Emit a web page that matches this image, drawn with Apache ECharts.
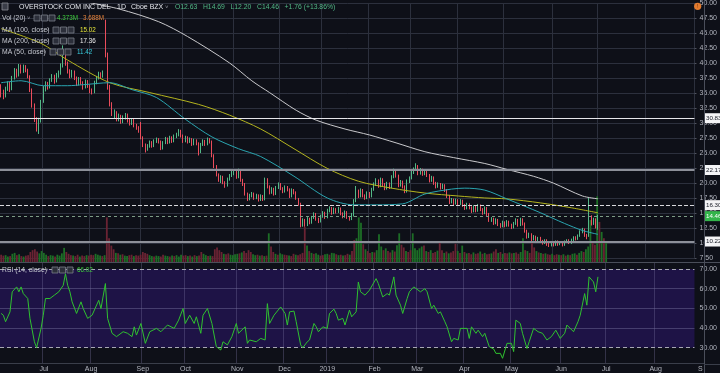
<!DOCTYPE html>
<html><head><meta charset="utf-8">
<script src="https://cdn.jsdelivr.net/npm/echarts@6/dist/echarts.min.js"></script>
<style>html,body{margin:0;padding:0;background:#0e1018;overflow:hidden}#c{width:720px;height:373px}</style>
</head><body><div id="c"></div>
<script>
// ---------- DATA ----------
const startDate = '2018-06-05';
const holidays = ['2018-07-04','2018-09-03','2018-11-22','2018-12-05','2018-12-25','2019-01-01','2019-01-21','2019-02-18','2019-04-19','2019-05-27','2019-07-04','2019-09-02'];
const monthNames = ['Jan','Feb','Mar','Apr','May','Jun','Jul','Aug','Sep','Oct','Nov','Dec'];
// [open, close, low, high]
const candles = [
[36.0,34.8,34.3,36.5],[34.8,34.5,34.0,35.6],[34.5,35.8,34.3,36.1],[35.8,36.6,35.4,37.0],[36.6,35.6,35.2,36.9],
[35.6,37.6,35.5,37.9],[37.6,38.8,37.3,39.2],[38.8,38.0,37.6,39.1],[38.0,39.5,37.8,39.9],[39.5,38.6,38.3,39.8],
[38.6,39.4,38.4,39.8],[39.4,38.9,38.5,39.7],[38.9,37.8,37.5,39.1],[37.8,35.5,35.2,38.0],[35.5,33.0,32.6,35.8],
[33.0,30.6,30.2,33.3],[30.6,29.8,28.6,31.0],[29.8,30.4,28.2,30.9],[30.4,33.6,30.1,33.9],
[33.6,35.8,33.4,36.2],[35.8,36.5,35.3,37.0],[36.5,36.0,35.6,36.9],[36.0,37.2,35.8,37.5],[37.2,37.8,36.9,38.2],
[37.8,37.0,36.6,38.1],[37.0,38.0,36.8,38.4],[38.0,38.4,37.6,38.8],[38.4,39.6,38.1,40.0],[39.6,41.5,39.3,43.0],
[41.5,40.0,39.6,41.8],[40.0,38.6,38.3,40.3],[38.6,37.9,37.5,39.0],[37.9,38.6,37.6,38.9],[38.6,37.5,37.2,38.8],
[37.5,36.6,36.2,37.8],[36.6,37.4,36.3,37.7],[37.4,36.8,36.4,37.7],[36.8,36.0,35.6,37.0],[36.0,37.0,35.8,37.3],
[37.0,36.2,35.9,37.2],
[36.2,35.4,35.0,36.5],[35.4,35.2,34.8,35.8],[35.2,36.8,35.0,37.1],[36.8,37.6,36.5,37.9],[37.6,38.2,37.3,38.6],
[38.2,37.8,37.4,38.5],[37.8,38.4,37.6,38.8],[47.0,41.6,41.0,47.3],[41.4,36.0,35.6,41.8],[36.0,33.2,32.8,36.4],
[33.2,31.6,31.2,33.5],[31.2,31.8,30.8,32.3],[31.8,30.6,30.3,32.0],[30.6,31.2,30.3,31.6],[31.2,30.2,29.9,31.4],
[30.2,30.9,30.0,31.3],[30.9,31.4,30.6,31.7],[31.4,30.4,30.1,31.6],[30.4,29.9,29.6,30.7],[29.9,30.5,29.7,30.8],
[30.5,29.6,29.3,30.7],[29.6,29.2,28.9,29.9],[29.2,28.7,28.4,29.5],
[29.8,27.6,27.3,30.2],[27.6,26.4,26.0,27.8],[26.4,25.6,25.1,26.6],[25.6,26.2,25.4,26.5],[26.2,26.8,25.9,27.1],
[26.8,26.2,25.9,27.0],[26.2,27.0,26.0,27.3],[27.0,27.3,26.7,27.6],[27.3,26.9,26.6,27.5],[26.9,25.8,25.5,27.1],
[25.8,26.8,25.6,27.0],[26.8,27.4,26.5,27.7],[27.4,26.8,26.5,27.6],[26.8,27.6,26.6,27.9],[27.6,27.0,26.7,27.8],
[27.0,27.8,26.8,28.1],[27.8,28.1,27.5,28.4],[28.0,28.7,27.8,29.0],[28.7,27.9,27.6,28.9],
[27.9,27.0,26.7,28.1],[27.0,27.6,26.8,27.9],[27.6,26.9,26.6,27.8],[26.9,27.3,26.7,27.6],[27.3,26.5,26.2,27.5],
[26.5,27.1,26.3,27.4],[27.1,26.6,26.3,27.3],[26.6,24.9,24.6,26.8],[25.2,26.4,25.0,26.7],[26.4,27.0,26.2,27.3],
[27.0,26.5,26.2,27.2],[26.5,27.3,26.3,27.6],[27.3,26.9,26.6,27.5],[26.9,24.6,24.3,27.1],[24.6,22.8,22.5,24.8],
[22.8,21.4,21.1,23.0],[21.4,20.6,20.2,21.6],[20.4,21.0,20.0,21.3],[21.0,20.1,19.8,21.2],[20.1,19.6,19.2,20.3],
[19.6,20.6,19.4,20.9],[20.6,21.2,20.4,21.5],[21.2,21.8,21.0,22.1],
[21.6,22.0,21.3,22.3],[22.0,21.0,20.7,22.2],[21.0,22.0,20.8,22.4],[22.0,20.5,20.2,22.1],[20.5,19.8,19.5,20.7],
[19.8,18.2,17.9,20.0],[18.2,17.3,17.0,18.4],[17.3,17.9,17.1,18.2],[17.9,18.2,17.6,18.5],[18.2,17.5,17.2,18.4],
[17.5,17.9,17.3,18.2],[17.9,17.2,16.9,18.1],[17.2,17.8,17.0,18.1],[17.8,17.3,17.0,18.0],[17.3,20.6,17.1,20.9],
[20.6,19.4,19.1,20.8],[19.4,18.4,18.1,19.6],[18.4,19.0,18.2,19.3],[19.0,18.2,17.9,19.2],[18.2,19.2,18.0,19.5],
[19.2,19.8,19.0,20.1],
[19.8,19.1,18.8,20.0],[19.1,18.6,18.3,19.3],[18.6,19.3,18.4,19.6],[19.3,18.9,18.6,19.5],[18.9,17.8,17.5,19.1],
[17.8,18.8,17.6,19.1],[18.8,18.4,18.1,19.0],[18.4,17.5,17.2,18.6],[17.3,16.5,16.2,17.5],[16.5,13.0,12.6,16.7],
[13.0,13.8,12.7,14.1],[13.8,13.0,12.7,14.0],[13.0,14.0,12.8,14.3],[14.0,13.4,13.1,14.2],[13.4,14.2,13.2,14.5],
[14.2,14.8,14.0,15.1],[14.8,14.0,13.7,15.0],[14.0,13.6,13.3,14.2],[13.6,14.4,13.4,14.7],
[14.4,15.0,14.2,15.3],[15.0,14.3,14.0,15.2],[14.3,15.4,14.1,15.7],[15.4,15.8,15.1,16.1],[15.8,15.0,14.7,16.0],
[15.0,15.6,14.8,15.9],[15.6,15.2,14.9,15.8],[15.2,15.7,15.0,16.0],[15.7,14.9,14.6,15.9],[14.9,14.4,14.1,15.1],
[14.4,15.1,14.2,15.4],[15.1,14.3,14.0,15.3],[14.3,14.0,13.7,14.5],[14.0,14.8,13.8,15.0],[14.6,17.0,14.4,17.3],
[17.0,18.6,16.8,19.5],[18.6,17.8,17.5,18.9],[17.8,18.8,17.6,19.1],[18.8,17.9,17.6,19.0],[17.9,17.5,17.2,18.1],
[17.5,18.3,17.3,18.6],
[18.3,17.8,17.5,18.5],[17.8,18.9,17.6,19.2],[18.9,19.8,18.7,20.1],[19.8,20.4,19.5,20.8],[20.4,19.5,19.2,20.6],
[19.5,20.6,19.3,20.9],[20.6,19.8,19.5,20.8],[19.8,19.1,18.8,20.0],[19.1,19.9,18.9,20.2],[19.9,19.3,19.0,20.1],
[19.3,21.0,19.1,21.3],[21.0,22.0,20.8,22.4],[22.0,21.2,20.9,22.2],[21.2,19.6,19.3,21.4],[19.6,20.2,19.4,20.5],
[20.2,19.4,19.1,20.4],[19.4,18.6,18.3,19.6],[18.6,20.3,18.4,20.6],[20.3,20.8,20.0,21.1],
[20.8,21.8,20.6,22.1],[21.8,22.2,21.5,22.6],[22.2,22.8,22.0,23.3],[22.8,21.6,21.3,23.0],[21.6,22.2,21.4,22.5],
[22.2,21.5,21.2,22.4],[21.5,22.0,21.3,22.3],[22.0,21.3,21.0,22.2],[21.3,20.4,20.1,21.5],[20.4,20.9,20.2,21.2],
[20.9,20.0,19.7,21.1],[20.0,19.4,19.1,20.2],[19.4,19.8,19.2,20.1],[19.8,19.2,18.9,20.0],[19.2,19.6,19.0,19.9],
[19.6,18.8,18.5,19.8],[18.8,17.8,17.5,19.0],[17.8,16.8,16.5,18.0],[16.8,17.2,16.6,17.5],[17.2,16.6,16.3,17.4],
[16.6,17.1,16.4,17.4],
[17.1,16.5,16.2,17.3],[16.5,17.0,16.3,17.3],[17.0,16.3,16.0,17.2],[16.3,15.8,15.5,16.5],[15.8,16.4,15.6,16.7],
[16.4,15.9,15.6,16.6],[15.9,15.3,15.0,16.1],[15.3,16.0,15.1,16.3],[16.0,15.4,15.1,16.2],[15.4,16.2,15.2,16.5],
[16.2,15.6,15.3,16.4],[15.6,15.0,14.7,15.8],[15.0,15.8,14.8,16.1],[15.8,14.8,14.5,16.0],[14.8,13.8,13.5,15.0],
[13.8,14.0,13.5,14.3],[14.0,13.3,13.0,14.2],[13.3,13.8,13.1,14.1],[13.8,13.1,12.8,14.0],[13.1,12.8,12.5,13.3],
[12.8,13.4,12.6,13.7],
[13.4,12.9,12.6,13.6],[12.9,13.5,12.7,13.8],[13.5,13.0,12.7,13.7],[13.0,12.6,12.3,13.2],[12.6,13.2,12.4,13.5],
[13.2,13.8,13.0,14.1],[13.8,13.0,12.7,14.0],[13.0,13.9,12.8,14.2],[13.9,13.2,12.9,14.1],[13.2,12.0,11.7,13.4],
[12.0,11.0,10.7,12.2],[11.0,11.4,10.8,11.7],[11.4,10.6,10.3,11.6],[10.6,11.0,10.4,11.3],[11.0,10.4,10.1,11.2],
[10.4,10.8,10.2,11.0],[10.8,10.3,10.0,11.0],[10.3,10.0,9.7,10.5],[10.0,10.4,9.8,10.6],[10.4,9.8,9.5,10.6],
[9.8,9.6,9.3,10.0],[9.6,10.0,9.4,10.2],
[10.0,9.7,9.4,10.2],[9.7,10.2,9.5,10.4],[10.2,9.8,9.5,10.4],[9.8,10.1,9.6,10.3],[10.1,9.7,9.4,10.3],
[9.7,10.2,9.5,10.4],[10.2,10.4,10.0,10.6],[10.4,10.0,9.8,10.6],[10.0,10.5,9.8,10.7],[10.5,10.9,10.3,11.1],
[10.9,10.6,10.4,11.1],[10.6,11.2,10.5,11.4],[11.2,11.8,11.0,12.1],[11.8,12.2,11.6,12.5],[12.2,11.3,11.0,12.4],
[11.3,10.9,10.6,11.5],[11.2,14.3,11.0,17.6],[14.3,13.2,12.9,14.6],[13.2,13.9,13.0,14.2],[13.9,12.7,12.4,14.1],
[12.63,14.46,12.20,14.69]
];
// volume, millions
const volumes = [
1.6,1.4,1.5,1.2,1.3,1.8,2.0,1.5,1.7,1.3,1.2,1.4,1.5,2.2,2.6,2.8,2.3,1.9,2.4,
2.0,1.6,1.3,1.5,1.4,1.2,1.6,1.4,1.9,3.1,2.2,1.8,1.5,1.4,1.3,1.6,1.2,1.4,1.3,1.5,1.4,
1.6,1.5,1.8,1.6,1.4,1.3,1.5,9.8,5.2,3.6,2.8,2.0,1.9,1.6,1.7,1.4,1.3,1.5,1.6,1.3,1.5,1.4,1.6,
2.2,2.0,1.8,1.5,1.3,1.2,1.4,1.3,1.2,1.6,1.4,1.3,1.2,1.4,1.3,1.5,1.2,1.6,1.4,
1.5,1.3,1.4,1.2,1.5,1.3,1.4,2.2,1.8,1.5,1.3,1.4,1.3,2.8,3.2,2.6,2.2,1.8,1.7,1.9,1.6,1.5,1.7,
1.8,1.9,2.1,2.4,2.0,2.6,2.2,1.7,1.5,1.6,1.4,1.5,1.3,1.4,6.3,3.4,2.2,1.8,1.6,1.9,1.7,
1.6,1.5,1.4,1.3,1.8,1.6,1.5,1.7,2.0,7.7,3.6,2.4,2.0,1.8,1.9,1.6,1.4,1.5,1.7,
1.8,1.6,2.0,1.9,1.7,1.5,1.6,1.4,1.5,1.8,1.6,2.4,4.8,5.2,9.8,8.6,3.9,2.8,2.4,2.0,2.2,
2.1,2.6,6.1,3.4,2.6,3.0,2.4,2.1,2.6,2.3,3.7,6.3,3.8,3.2,2.4,2.2,2.6,6.3,3.0,
2.6,3.0,3.4,3.6,2.4,2.2,2.6,2.0,2.2,2.5,4.4,2.6,2.0,2.3,1.9,2.1,2.4,4.0,2.4,2.0,3.6,
2.2,1.9,2.0,1.7,2.1,1.8,1.9,2.3,1.8,2.0,1.7,1.8,1.9,2.3,2.8,2.0,2.2,1.8,2.0,1.9,2.1,
1.9,2.0,2.1,1.8,2.2,5.2,2.6,2.4,2.0,4.4,3.2,2.4,2.1,2.0,1.8,1.9,1.7,1.6,1.8,1.5,1.7,1.6,
1.5,1.7,1.4,1.6,1.5,1.8,1.9,1.6,2.0,2.4,2.2,2.8,3.4,9.2,4.6,3.8,14.4,8.8,6.6,5.2,
4.373
];
// moving averages: [bar index, value]
const ma50 = [[0,36.76],[9,37.09],[19,36.26],[30,36.26],[37,36.43],[49,36.76],[59,35.60],[70,34.29],[83,30.67],[95,27.71],[107,25.73],[117,24.42],[132,21.13],[147,17.50],[159,16.35],[169,16.35],[181,16.52],[191,18.16],[203,18.98],[209,19.14],[218,18.81],[228,17.34],[243,15.04],[254,13.23],[262,12.07],[269,11.42]];
const ma100 = [[0,45.8],[18,43.34],[30,40.54],[49,36.76],[67,35.11],[89,33.14],[103,31.33],[117,29.03],[132,25.73],[147,22.44],[161,20.30],[176,19.14],[191,18.32],[206,17.83],[218,17.50],[228,17.34],[243,16.68],[257,15.86],[269,15.02]];
const ma200 = [[36,50.41],[53,49.10],[71,46.96],[84,44.49],[103,40.05],[113,37.08],[121,35.11],[133,32.15],[142,30.50],[155,29.02],[166,28.03],[178,26.71],[191,25.23],[204,24.24],[218,23.26],[228,22.27],[240,21.12],[249,19.97],[262,17.83],[269,17.36]];
const rsi = [[0,47.4],[1,46.5],[2,43.2],[4,48.2],[5,58.4],[7,60.9],[8,58.4],[9,60.9],[10,57.5],[12,55.0],[13,44.9],[15,33.0],[16,30.0],[18,39.8],[19,46.5],[20,55.0],[22,55.0],[24,56.7],[26,58.4],[28,61.7],[29,67.6],[30,61.7],[31,58.4],[32,53.3],[34,47.4],[36,53.3],[37,49.9],[39,44.9],[41,46.5],[44,54.1],[45,49.9],[47,62.6],[48,44.9],[50,37.3],[52,35.6],[55,38.1],[57,37.3],[59,35.6],[60,40.6],[61,36.4],[63,42.3],[65,32.2],[67,38.1],[70,39.8],[72,38.1],[75,41.5],[78,39.8],[80,44.0],[82,49.9],[83,42.3],[85,46.5],[87,42.3],[88,45.7],[90,37.3],[91,46.5],[93,49.9],[95,42.3],[97,30.5],[99,28.8],[100,33.0],[102,31.4],[104,35.6],[106,42.3],[107,37.3],[110,40.6],[111,32.2],[112,33.9],[115,33.0],[117,34.7],[119,33.9],[120,52.4],[121,42.3],[123,46.5],[126,50.7],[128,47.4],[129,41.5],[130,48.2],[132,48.6],[133,43.2],[135,31.4],[136,30.0],[138,33.0],[139,33.9],[141,42.3],[142,40.6],[143,38.1],[145,40.6],[147,39.8],[148,47.4],[150,49.6],[151,47.4],[152,44.0],[154,44.9],[155,41.5],[157,49.1],[158,45.7],[160,48.2],[161,63.4],[162,58.4],[164,56.7],[166,59.2],[169,65.1],[170,62.6],[172,55.8],[174,57.5],[175,56.7],[177,66.0],[178,56.7],[180,51.6],[181,47.4],[183,55.0],[184,58.4],[186,60.9],[189,58.4],[191,60.0],[192,58.4],[194,49.9],[195,51.6],[197,47.4],[198,48.2],[200,43.2],[201,40.6],[203,33.0],[204,34.7],[206,33.9],[207,39.8],[210,39.8],[211,34.7],[212,40.6],[214,37.3],[215,38.9],[217,35.6],[218,37.3],[220,30.5],[222,29.3],[223,27.1],[225,27.1],[226,24.6],[228,32.2],[230,32.2],[231,28.0],[232,44.0],[234,42.3],[235,37.3],[237,29.6],[238,33.0],[240,39.8],[242,38.1],[244,37.3],[246,33.9],[248,35.6],[250,38.9],[252,34.7],[254,37.3],[255,41.5],[258,38.1],[260,43.2],[261,46.5],[263,57.5],[264,51.6],[265,66.0],[267,63.4],[268,58.4],[269,66.02]];
const levelValues = [30.83, 22.17, 16.30, 14.46, 10.22];
const levelLabels = ['30.83', '22.17', '16.30', '14.46', '10.22'];
const rsiLevels = [70, 60, 50, 40, 30];
const title = 'OVERSTOCK COM INC DEL';
const interval = '1D';
const exchange = 'Cboe BZX';
const ohlcText = 'O12.63   H14.69   L12.20   C14.46   +1.76 (+13.86%)';
const legendNames = ['Vol (20)', 'MA (100, close)', 'MA (200, close)', 'MA (50, close)', 'RSI (14, close)'];
const legendValues = [['4.373M', '3.688M'], ['15.02'], ['17.36'], ['11.42'], ['66.02']];

// ---------- BUILD ----------
const NCAT = 313;
const dates = [];
(function () {
  const d = new Date(startDate + 'T00:00:00Z');
  while (dates.length < NCAT) {
    const wd = d.getUTCDay(), s = d.toISOString().slice(0, 10);
    if (wd !== 0 && wd !== 6 && holidays.indexOf(s) < 0) dates.push(s);
    d.setUTCDate(d.getUTCDate() + 1);
  }
})();
const isMonthStart = i => i > 0 && dates[i].slice(5, 7) !== dates[i - 1].slice(5, 7);
const monthLabel = i => { const m = +dates[i].slice(5, 7); return m === 1 ? dates[i].slice(0, 4) : monthNames[m - 1]; };

const BG = '#0e1018', GRID = '#2c303d', AXT = '#b2b5be';
const UP = '#53b987', DOWN = '#eb4d5c', VUP = '#1d6e26', VDOWN = '#6a2333';
const FONT = '"Liberation Sans", Arial, sans-serif';

const volData = volumes.map((v, i) => ({ value: v, itemStyle: { color: candles[i][1] >= candles[i][0] ? VUP : VDOWN } }));
const levelStyles = [
  { color: '#e6e6ea', width: 1, type: 'solid' },
  { color: '#8d9099', width: 2, type: 'solid' },
  { color: '#d8d8dc', width: 1, type: 'dashed' },
  { color: '#7d9c86', width: 1, type: [3, 3] },
  { color: '#8d9099', width: 2, type: 'solid' }
];
const L = -1, W = 705;
const catAxis = (gi, extra) => Object.assign({
  type: 'category', gridIndex: gi, data: dates, boundaryGap: true,
  axisLine: { show: false }, axisTick: { show: false }, axisLabel: { show: false }, splitLine: { show: false }
}, extra || {});

const option = {
  backgroundColor: BG,
  animation: false,
  textStyle: { fontFamily: FONT },
  grid: [
    { left: L, width: W, top: -0.5, height: 258.3 },
    { left: L, width: W, top: 180, height: 82 },
    { left: L, width: W, top: 249.33, height: 118 },
    { left: L, width: W, top: 263, height: 101 }
  ],
  xAxis: [
    catAxis(0, { splitLine: { show: true, interval: i => isMonthStart(i), lineStyle: { color: GRID, width: 1 } } }),
    catAxis(1),
    catAxis(2),
    catAxis(3, {
      z: 3,
      axisLine: { show: true, lineStyle: { color: '#3a3e4a' } },
      axisLabel: { show: true, interval: i => isMonthStart(i), formatter: (v, i) => monthLabel(i), color: AXT, fontSize: 7, margin: 3, fontFamily: FONT },
      splitLine: { show: true, interval: i => isMonthStart(i), lineStyle: { color: 'rgba(120,115,160,0.35)', width: 1 } }
    })
  ],
  yAxis: [
    { type: 'value', gridIndex: 0, position: 'right', min: 7.5, max: 50, interval: 2.5,
      axisLine: { show: false }, axisTick: { show: true, length: 2, lineStyle: { color: '#50535e' } },
      axisLabel: { color: AXT, fontSize: 7, margin: 5, formatter: v => v.toFixed(2), fontFamily: FONT },
      splitLine: { show: true, lineStyle: { color: GRID, width: 1 } } },
    { type: 'value', gridIndex: 1, min: 0, max: 18, show: false },
    { type: 'value', gridIndex: 2, position: 'right', min: 20, max: 80, interval: 10,
      axisLine: { show: false }, axisTick: { show: false }, splitLine: { show: false },
      axisLabel: { color: AXT, fontSize: 7, margin: 5, fontFamily: FONT, formatter: v => (v === 20 || v === 80) ? '' : v.toFixed(2) } },
    { type: 'value', gridIndex: 3, min: 0, max: 1, show: false }
  ],
  series: [
    { type: 'bar', name: 'vol', xAxisIndex: 1, yAxisIndex: 1, data: volData, barWidth: 1.8, z: 1, silent: true },
    { type: 'candlestick', name: 'price', xAxisIndex: 0, yAxisIndex: 0, data: candles, barWidth: 1.2, z: 3, silent: true,
      itemStyle: { color: UP, color0: DOWN, borderColor: UP, borderColor0: DOWN, borderWidth: 1 },
      markLine: { silent: true, symbol: ['none', 'none'], label: { show: false }, animation: false,
        data: levelValues.map((v, k) => ({ yAxis: v, lineStyle: levelStyles[k] })) } },
    { type: 'line', name: 'ma100', xAxisIndex: 0, yAxisIndex: 0, data: ma100, showSymbol: false, smooth: 0.3, z: 4, silent: true, lineStyle: { color: '#b4b41e', width: 1 } },
    { type: 'line', name: 'ma200', xAxisIndex: 0, yAxisIndex: 0, data: ma200, showSymbol: false, smooth: 0.3, z: 4, silent: true, lineStyle: { color: '#c9c9cc', width: 1 } },
    { type: 'line', name: 'ma50', xAxisIndex: 0, yAxisIndex: 0, data: ma50, showSymbol: false, smooth: 0.3, z: 4, silent: true, lineStyle: { color: '#2aa5b0', width: 1 } },
    { type: 'line', name: 'band', xAxisIndex: 2, yAxisIndex: 2, data: [], z: 1, silent: true,
      markArea: { silent: true, itemStyle: { color: '#1e1346' }, data: [[{ yAxis: 30 }, { yAxis: 70 }]] } },
    { type: 'line', name: 'rsiLines', xAxisIndex: 2, yAxisIndex: 2, data: [], z: 4, silent: true,
      markLine: { silent: true, symbol: ['none', 'none'], label: { show: false },
        data: rsiLevels.map(v => ({ yAxis: v, lineStyle: (v === 70 || v === 30) ? { color: '#a8a8b4', width: 1, type: [4, 3] } : { color: 'rgba(120,115,160,0.45)', width: 1, type: 'solid' } })) } },
    { type: 'line', name: 'rsi', xAxisIndex: 2, yAxisIndex: 2, data: rsi, showSymbol: false, z: 5, silent: true, lineStyle: { color: '#2fc22f', width: 1 } }
  ]
};

const chart = echarts.init(document.getElementById('c'), null, { renderer: 'canvas' });
chart.setOption(option);

// ---------- overlays ----------
const g = [];
const txt = (x, y, s, color, size, extra, z) => g.push({ type: 'text', z: z || 50, silent: true,
  style: Object.assign({ x: x, y: y, text: s, fill: color, font: (size || 7) + 'px ' + FONT, textVerticalAlign: 'middle' }, extra || {}) });
const box3 = (x, y) => { for (let k = 0; k < 3; k++) g.push({ type: 'rect', z: 50, silent: true,
  shape: { x: x + k * 7.5, y: y - 3, width: 6, height: 6 }, style: { fill: '#2c2f3a', stroke: '#7a7d88', lineWidth: 0.8 } }); };

// frame lines
g.push({ type: 'line', z: 40, silent: true, shape: { x1: 704.5, y1: 0, x2: 704.5, y2: 373 }, style: { stroke: '#4a4e5a', lineWidth: 1 } });
g.push({ type: 'line', z: 40, silent: true, shape: { x1: 0, y1: 262.5, x2: 720, y2: 262.5 }, style: { stroke: '#4a4e5a', lineWidth: 1 } });
g.push({ type: 'line', z: 40, silent: true, shape: { x1: 704, y1: 364.5, x2: 720, y2: 364.5 }, style: { stroke: '#3a3e4a', lineWidth: 1 } });

// title row
g.push({ type: 'rect', z: 50, silent: true, shape: { x: 2, y: 3, width: 6, height: 7 }, style: { fill: '#3a3d48', stroke: '#8a8d96', lineWidth: 0.8 } });
txt(19, 7, title, '#e4e6ec', 7);
txt(117, 7, interval, '#e4e6ec', 7);
txt(131, 7, exchange, '#e4e6ec', 7);
txt(165, 7.5, '˅', '#9a9da6', 6);
txt(175, 7, ohlcText, '#53b987', 6.8);

// legends
const legY = [18, 30, 41, 52];
const boxX = [34, 53, 53, 50];
const valX = [[57, 83], [80], [80], [77]];
const valC = [['#3ecb3e', '#e8843c'], ['#e3e33a'], ['#ececec'], ['#39cfe0']];
for (let k = 0; k < 4; k++) {
  txt(2, legY[k], legendNames[k], '#c7cad2', 6.8);
  txt(boxX[k] - 7, legY[k] + 0.5, '˅', '#9a9da6', 6);
  box3(boxX[k], legY[k]);
  legendValues[k].forEach((s, j) => txt(valX[k][j], legY[k], s, valC[k][j], 6.3));
}
txt(2, 270, legendNames[4], '#c7cad2', 6.8);
txt(45, 270.5, '˅', '#9a9da6', 6);
box3(52, 270);
txt(77, 270, legendValues[4][0], '#3ecb3e', 6.3);

// event marker
g.push({ type: 'circle', z: 50, silent: true, shape: { cx: 697.7, cy: 6.3, r: 3.6 }, style: { fill: '#e27b2e' } });
txt(697.7, 6.5, '!', '#7a3a10', 6, { textAlign: 'center' }, 51);

// price tags
const tagBg = ['#f4f4f6', '#f4f4f6', '#f4f4f6', '#33b44a', '#f4f4f6'];
const tagFg = ['#131722', '#131722', '#131722', '#ffffff', '#131722'];
levelValues.forEach((v, k) => {
  const y = chart.convertToPixel({ yAxisIndex: 0 }, v);
  g.push({ type: 'rect', z: 60, silent: true, shape: { x: 705, y: y - 5, width: 16, height: 10 }, style: { fill: tagBg[k] } });
  txt(706, y, levelLabels[k], tagFg[k], 6.2, null, 61);
});
// clipped next-month label at the scale edge
txt(698, 369.5, 'S', AXT, 7);

chart.setOption({ graphic: g });
</script>
</body></html>
